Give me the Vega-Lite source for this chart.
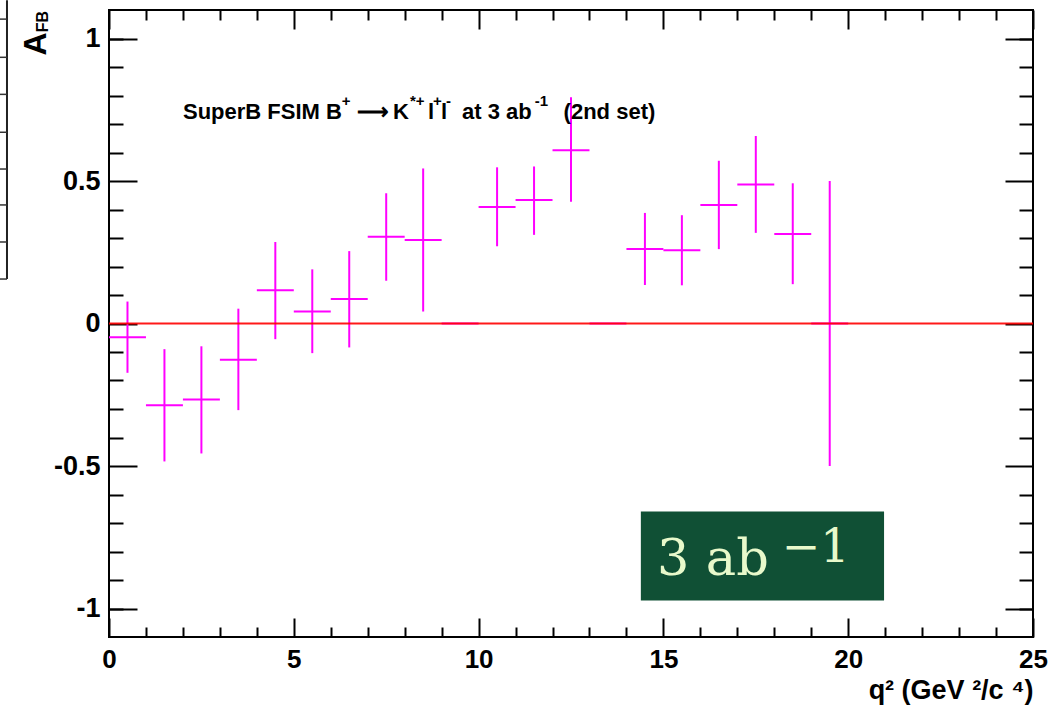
{
  "$schema": "https://vega.github.io/schema/vega-lite/v6.json",
  "width": 924,
  "height": 627,
  "autosize": "none",
  "padding": {"left": 109, "top": 10, "right": 29, "bottom": 69},
  "background": "white",
  "datasets": {
    "pts": [
      {"q": 0.5, "qlo": 0, "qhi": 1, "a": -0.048, "alo": -0.173, "ahi": 0.077},
      {"q": 1.5, "qlo": 1, "qhi": 2, "a": -0.287, "alo": -0.484, "ahi": -0.090},
      {"q": 2.5, "qlo": 2, "qhi": 3, "a": -0.267, "alo": -0.456, "ahi": -0.080},
      {"q": 3.5, "qlo": 3, "qhi": 4, "a": -0.127, "alo": -0.304, "ahi": 0.052},
      {"q": 4.5, "qlo": 4, "qhi": 5, "a": 0.117, "alo": -0.055, "ahi": 0.286},
      {"q": 5.5, "qlo": 5, "qhi": 6, "a": 0.042, "alo": -0.104, "ahi": 0.190},
      {"q": 6.5, "qlo": 6, "qhi": 7, "a": 0.086, "alo": -0.084, "ahi": 0.254},
      {"q": 7.5, "qlo": 7, "qhi": 8, "a": 0.304, "alo": 0.150, "ahi": 0.457},
      {"q": 8.5, "qlo": 8, "qhi": 9, "a": 0.293, "alo": 0.042, "ahi": 0.544},
      {"q": 9.5, "qlo": 9, "qhi": 10, "a": 0, "alo": 0, "ahi": 0},
      {"q": 10.5, "qlo": 10, "qhi": 11, "a": 0.409, "alo": 0.271, "ahi": 0.548},
      {"q": 11.5, "qlo": 11, "qhi": 12, "a": 0.433, "alo": 0.311, "ahi": 0.551},
      {"q": 12.5, "qlo": 12, "qhi": 13, "a": 0.608, "alo": 0.427, "ahi": 0.794},
      {"q": 13.5, "qlo": 13, "qhi": 14, "a": 0, "alo": 0, "ahi": 0},
      {"q": 14.5, "qlo": 14, "qhi": 15, "a": 0.261, "alo": 0.135, "ahi": 0.388},
      {"q": 15.5, "qlo": 15, "qhi": 16, "a": 0.257, "alo": 0.134, "ahi": 0.380},
      {"q": 16.5, "qlo": 16, "qhi": 17, "a": 0.416, "alo": 0.261, "ahi": 0.571},
      {"q": 17.5, "qlo": 17, "qhi": 18, "a": 0.488, "alo": 0.318, "ahi": 0.658},
      {"q": 18.5, "qlo": 18, "qhi": 19, "a": 0.314, "alo": 0.138, "ahi": 0.492},
      {"q": 19.5, "qlo": 19, "qhi": 20, "a": 0, "alo": -0.5, "ahi": 0.5}
    ]
  },
  "layer": [
    {
      "data": {"name": "pts"},
      "mark": {"type": "rule", "color": "#FF00FF", "strokeWidth": 2},
      "encoding": {
        "x": {"field": "q", "type": "quantitative",
              "scale": {"domain": [0, 25], "nice": false, "zero": false},
              "axis": {"orient": "bottom", "values": [0, 5, 10, 15, 20, 25], "tickSize": -19,
                       "labelFontSize": 26, "labelPadding": 28,
                       "title": "q² (GeV ²/c ⁴)", "titleFontSize": 27,
                       "titleAlign": "right", "titleAnchor": "end", "titleBaseline": "alphabetic",
                       "titleX": 924, "titleY": 61}},
        "y": {"field": "alo", "type": "quantitative",
              "scale": {"domain": [-1.1, 1.1], "nice": false, "zero": false},
              "axis": {"orient": "left", "values": [-1, -0.5, 0, 0.5, 1], "tickSize": -28,
                       "labelFontSize": 27, "labelPadding": 37,
                       "labelExpr": "'' + datum.value",
                       "title": "A", "titleFontSize": 32, "titleAngle": -90,
                       "titleAlign": "right", "titleAnchor": "end", "titleBaseline": "alphabetic",
                       "titleX": -64, "titleY": 22}},
        "y2": {"field": "ahi"}
      }
    },
    {
      "data": {"name": "pts"},
      "mark": {"type": "rule", "color": "#FF00FF", "strokeWidth": 2},
      "encoding": {
        "x": {"field": "qlo", "type": "quantitative",
              "axis": {"orient": "bottom", "values": [1,2,3,4,6,7,8,9,11,12,13,14,16,17,18,19,21,22,23,24],
                       "tickSize": -10, "labels": false, "title": null}},
        "x2": {"field": "qhi"},
        "y": {"field": "a", "type": "quantitative",
              "axis": {"orient": "left", "values": [-1,-0.9,-0.8,-0.7,-0.6,-0.4,-0.3,-0.2,-0.1,0.1,0.2,0.3,0.4,0.6,0.7,0.8,0.9,1],
                       "tickSize": -14, "labels": false, "title": null}}
      }
    },
    {
      "data": {"values": [{"x1": 0, "x2": 25, "z": 0}]},
      "mark": {"type": "rule", "color": "#FF0000", "strokeWidth": 2, "opacity": 0.9},
      "encoding": {
        "x": {"field": "x1", "type": "quantitative", "axis": null},
        "x2": {"field": "x2"},
        "y": {"field": "z", "type": "quantitative", "axis": null}
      }
    },
    {
      "data": {"values": [{"x1": 14.39, "x2": 20.97, "y1": -0.660, "y2": -0.972}]},
      "mark": {"type": "rect", "color": "#105035"},
      "encoding": {
        "x": {"field": "x1", "type": "quantitative",
              "axis": {"orient": "top", "values": [0, 5, 10, 15, 20, 25], "tickSize": -19, "labels": false, "title": null}},
        "x2": {"field": "x2"},
        "y": {"field": "y1", "type": "quantitative",
              "axis": {"orient": "right", "values": [-1, -0.5, 0, 0.5, 1], "tickSize": -28, "labels": false, "title": null}},
        "y2": {"field": "y2"}
      }
    },
    {
      "data": {"values": [{"x": 14.83, "y": -0.881, "t": "3 ab"}]},
      "mark": {"type": "text", "align": "left", "baseline": "alphabetic", "font": "DejaVu Serif", "fontSize": 51, "color": "#E8F9CB"},
      "encoding": {
        "x": {"field": "x", "type": "quantitative",
              "axis": {"orient": "top", "values": [1,2,3,4,6,7,8,9,11,12,13,14,16,17,18,19,21,22,23,24],
                       "tickSize": -10, "labels": false, "title": null}},
        "y": {"field": "y", "type": "quantitative",
              "axis": {"orient": "right", "values": [-1,-0.9,-0.8,-0.7,-0.6,-0.4,-0.3,-0.2,-0.1,0.1,0.2,0.3,0.4,0.6,0.7,0.8,0.9,1],
                       "tickSize": -14, "labels": false, "title": null}},
        "text": {"field": "t"}
      }
    },
    {
      "data": {"values": [{"x": 18.2, "y": -0.836, "t": "−1"}]},
      "mark": {"type": "text", "align": "left", "baseline": "alphabetic", "font": "DejaVu Serif", "fontSize": 46, "color": "#E8F9CB"},
      "encoding": {
        "x": {"field": "x", "type": "quantitative", "axis": null},
        "y": {"field": "y", "type": "quantitative", "axis": null},
        "text": {"field": "t"}
      }
    },
    {
      "data": {"values": [
        {"x": 2.002, "y": 0.717, "t": "SuperB FSIM B"},
        {"x": 6.71, "y": 0.717, "t": "⟶"},
        {"x": 7.684, "y": 0.717, "t": "K"},
        {"x": 8.631, "y": 0.717, "t": "l"},
        {"x": 8.983, "y": 0.717, "t": "l"},
        {"x": 9.551, "y": 0.717, "t": "at 3 ab"},
        {"x": 12.30, "y": 0.717, "t": "(2nd set)"}
      ]},
      "mark": {"type": "text", "align": "left", "baseline": "alphabetic", "font": "Liberation Sans", "fontWeight": "bold", "fontSize": 22, "color": "black"},
      "encoding": {
        "x": {"field": "x", "type": "quantitative", "axis": null},
        "y": {"field": "y", "type": "quantitative", "axis": null},
        "text": {"field": "t"}
      }
    },
    {
      "data": {"values": [
        {"x": 6.30, "y": 0.763, "t": "+"},
        {"x": 8.144, "y": 0.763, "t": "*+"},
        {"x": 8.766, "y": 0.763, "t": "+"},
        {"x": 9.118, "y": 0.763, "t": "-"},
        {"x": 11.52, "y": 0.763, "t": "-1"}
      ]},
      "mark": {"type": "text", "align": "left", "baseline": "alphabetic", "font": "Liberation Sans", "fontWeight": "bold", "fontSize": 15, "color": "black"},
      "encoding": {
        "x": {"field": "x", "type": "quantitative", "axis": null},
        "y": {"field": "y", "type": "quantitative", "axis": null},
        "text": {"field": "t"}
      }
    },
    {
      "data": {"values": [{"x": -1.65, "y": 1.022, "t": "FB"}]},
      "mark": {"type": "text", "align": "left", "baseline": "alphabetic", "angle": 270, "font": "Liberation Sans", "fontWeight": "bold", "fontSize": 16, "color": "black"},
      "encoding": {
        "x": {"field": "x", "type": "quantitative", "axis": null},
        "y": {"field": "y", "type": "quantitative", "axis": null},
        "text": {"field": "t"}
      }
    },
    {
      "data": {"values": [{"x": -2.76, "y1": 1.134, "y2": 0.156}]},
      "mark": {"type": "rule", "color": "#222222", "strokeWidth": 2},
      "encoding": {
        "x": {"field": "x", "type": "quantitative", "axis": null},
        "y": {"field": "y1", "type": "quantitative", "axis": null},
        "y2": {"field": "y2"}
      }
    },
    {
      "data": {"values": [
        {"xa": -2.95, "xb": -2.76, "y": 1.068},
        {"xa": -2.95, "xb": -2.76, "y": 0.934},
        {"xa": -2.95, "xb": -2.76, "y": 0.804},
        {"xa": -2.95, "xb": -2.76, "y": 0.671},
        {"xa": -2.95, "xb": -2.76, "y": 0.542},
        {"xa": -2.95, "xb": -2.76, "y": 0.416},
        {"xa": -2.95, "xb": -2.76, "y": 0.286},
        {"xa": -2.95, "xb": -2.76, "y": 0.156}
      ]},
      "mark": {"type": "rule", "color": "#333333", "strokeWidth": 1.5},
      "encoding": {
        "x": {"field": "xa", "type": "quantitative", "axis": null},
        "x2": {"field": "xb"},
        "y": {"field": "y", "type": "quantitative", "axis": null}
      }
    }
  ],
  "resolve": {"axis": {"x": "independent", "y": "independent"}},
  "config": {
    "view": {"stroke": "black", "strokeWidth": 2},
    "axis": {
      "grid": false, "domain": false, "ticks": true,
      "tickColor": "black", "tickWidth": 2,
      "labelFont": "Liberation Sans", "labelFontWeight": "bold", "labelColor": "black",
      "titleFont": "Liberation Sans", "titleFontWeight": "bold", "titleColor": "black",
      "labelFlush": false, "labelOverlap": false, "labelBound": false
    }
  }
}
